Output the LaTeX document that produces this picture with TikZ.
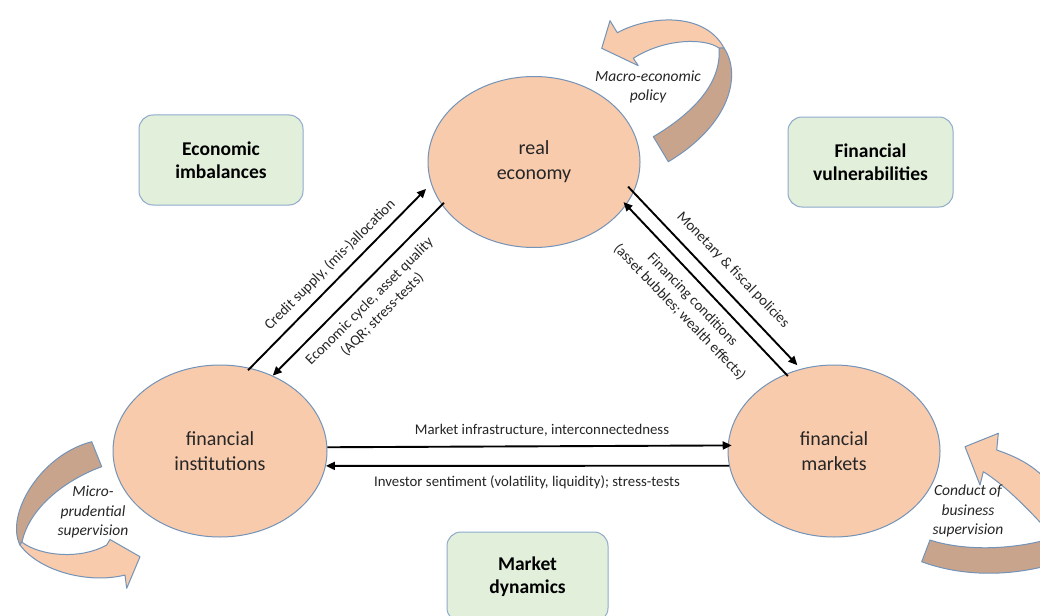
\documentclass[tikz,border=0pt]{standalone}
\usepackage{fontspec}
\setmainfont{Carlito}
\usetikzlibrary{arrows.meta,shapes.geometric}
\definecolor{peach}{HTML}{F8CBAD}
\definecolor{peachdark}{HTML}{C9A48C}
\definecolor{edgeblue}{HTML}{7393B8}
\definecolor{boxgreen}{HTML}{E2EFDA}
\definecolor{boxedge}{HTML}{8FAACC}
\definecolor{txt}{HTML}{262626}
\tikzset{
  ell/.style={ellipse, draw=edgeblue, line width=1pt, fill=peach, inner sep=0pt,
    minimum width=212pt, minimum height=171pt, align=center, text=txt,
    font=\fontsize{20}{25}\selectfont},
  gbox/.style={rectangle, rounded corners=14pt, draw=boxedge, line width=1pt,
    fill=boxgreen, align=center, text=black, inner sep=0pt,
    font=\bfseries\fontsize{19.5}{23}\selectfont},
  conn/.style={line width=1.9pt, -{Triangle[length=9pt,width=8pt]}},
  lab/.style={font=\fontsize{14.8}{18}\selectfont, align=center, text=txt, inner sep=0pt},
  ilab/.style={font=\itshape\fontsize{15.5}{19.5}\selectfont, align=center, text=txt, inner sep=0pt},
  band/.style={draw=edgeblue, line width=1pt, line join=round},
}
\begin{document}
\begin{tikzpicture}[x=1pt,y=-1pt]
\useasboundingbox (0,0) rectangle (1040,615);
\fill[white] (0,0) rectangle (1040,615);
\begin{scope}
\clip (0,0) rectangle (1040,615);

% ---- curved block arrows ----
% macro-economic policy
\filldraw[band, fill=peachdark] (653.3,136.7) .. controls (690,115) and (722,85) .. (719,48)
  -- (724,48) .. controls (742,75) and (730,125) .. (668.3,161.7) -- cycle;
\filldraw[band, fill=peach] (601.7,48.3) -- (610,20.7) -- (617.3,32.7)
  .. controls (650,15) and (705,12) .. (724,48)
  -- (719,48) .. controls (705,38) and (665,38) .. (633.3,58.3)
  -- (638.3,65.7) -- cycle;
% micro-prudential supervision
\filldraw[band, fill=peachdark] (91.7,441.7) -- (101.7,466.7)
  .. controls (70,478) and (30,505) .. (22,542)
  -- (20,545) .. controls (5,515) and (40,455) .. cycle;
\filldraw[band, fill=peach] (21.7,542) .. controls (40,556) and (80,560) .. (106.7,545)
  -- (110,539.5) -- (140,556.7) -- (126.7,588.3) -- (125,575)
  .. controls (90,584) and (40,572) .. (20,545) -- cycle;
% conduct of business supervision
\filldraw[band, fill=peach] (965,446.7) -- (998.3,433.3) -- (996.7,450)
  .. controls (1020,458) and (1045,470) .. (1060,500)
  -- (1060,545) .. controls (1035,515) and (1005,485) .. (983.3,471.7)
  -- (980,485) -- cycle;
\filldraw[band, fill=peachdark] (921.7,561.7) -- (930,540)
  .. controls (960,550) and (1010,552) .. (1060,536)
  -- (1060,562) .. controls (1010,578) and (960,576) .. cycle;

% ---- green boxes ----
\node[gbox, minimum width=164pt, minimum height=90pt] (ei) at (221,160) {Economic\\imbalances};
\node[gbox, minimum width=165pt, minimum height=90pt] (fv) at (870.5,162) {Financial\\vulnerabilities};
\node[gbox, minimum width=161pt, minimum height=90pt] (md) at (527.5,577) {Market\\dynamics};
\end{scope}

% ---- ellipses ----
\node[ell] (re) at (534,162) {real\\economy};
\node[ell, minimum width=214pt, minimum height=172pt] (fi) at (220,451) {financial\\institutions};
\node[ell, minimum width=212pt, minimum height=172pt] (fm) at (834,451) {financial\\markets};

% ---- connectors ----
\draw[conn, shorten <=-3pt, shorten >=7pt] (fi.70.7) -- (re.192.7);
\draw[conn, shorten <=-3pt] (re.205) -- (fi.55.7);
\draw[conn, shorten <=-8pt, shorten >=5pt] (re.-17.9) -- (fm.112);
\draw[conn, shorten <=-3pt, shorten >=-4pt] (fm.122.4) -- (re.-25.2);
\draw[conn, shorten >=-4pt] (fi.2.1) -- (fm.177.8);
\draw[conn] (fm.188.7) -- (fi.-8.7);

% ---- connector labels ----
\node[lab, rotate=45] (l1) at (330,265) {Credit supply, (mis-)allocation};
\node[lab, rotate=45] (l2) at (376,308) {Economic cycle, asset quality\\(AQR; stress-tests)};
\node[lab, rotate=-46] (l3) at (733,270) {Monetary \& fiscal policies};
\node[lab, rotate=-46] (l4) at (686,306) {Financing conditions\\(asset bubbles; wealth effects)};
\node[lab] (l5) at (542,430) {Market infrastructure, interconnectedness};
\node[lab] (l6) at (527,482) {Investor sentiment (volatility, liquidity); stress-tests};

% ---- policy labels ----
\node[ilab] (p1) at (648,87) {Macro-economic\\policy};
\node[ilab] (p2) at (93,512) {Micro-\\prudential\\supervision};
\node[ilab] (p3) at (968,511) {Conduct of\\business\\supervision};
\end{tikzpicture}
\end{document}
